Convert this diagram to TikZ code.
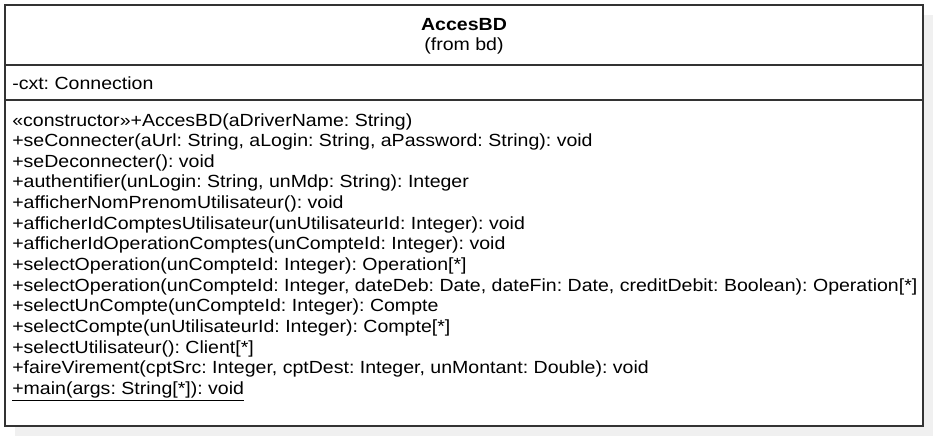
\documentclass[tikz,border=0pt]{standalone}
\usepackage{fontspec}
\setmainfont{Liberation Sans}[FakeStretch=1.11]
\frenchspacing
\usetikzlibrary{positioning}
\tikzset{
  frame/.style={draw=black!80, line width=1.1pt},
  member/.style={anchor=base west, inner sep=0pt, font=\fontsize{13.2pt}{15pt}\selectfont},
  heading/.style={anchor=base, inner sep=0pt, font=\fontsize{13.2pt}{15pt}\selectfont},
}
\begin{document}
\begin{tikzpicture}[x=0.75pt,y=-0.75pt]
    \useasboundingbox (0,0) rectangle (945,439);
    % shadow and class box
    \fill[black!6] (15,15) rectangle (933,436);
    \draw[frame, fill=white] (5,5) rectangle (923,426);
    \draw[frame] (5,65) -- (923,65);
    \draw[frame] (5,100) -- (923,100);
    % name compartment
    \node[heading] (name) at (464,30) {\textbf{AccesBD}};
    \node[heading] (pkg) at (464,50) {(from bd)};
    % attributes
    \node[member] (cxt) at (12,89) {-cxt: Connection};
    % operations
    \foreach \op [count=\i from 0] in {
        {«constructor»+AccesBD(aDriverName: String)},
        {+seConnecter(aUrl: String, aLogin: String, aPassword: String): void},
        {+seDeconnecter(): void},
        {+authentifier(unLogin: String, unMdp: String): Integer},
        {+afficherNomPrenomUtilisateur(): void},
        {+afficherIdComptesUtilisateur(unUtilisateurId: Integer): void},
        {+afficherIdOperationComptes(unCompteId: Integer): void},
        {+selectOperation(unCompteId: Integer): Operation[*]},
        {+selectOperation(unCompteId: Integer, dateDeb: Date, dateFin: Date, creditDebit: Boolean): Operation[*]},
        {+selectUnCompte(unCompteId: Integer): Compte},
        {+selectCompte(unUtilisateurId: Integer): Compte[*]},
        {+selectUtilisateur(): Client[*]},
        {+faireVirement(cptSrc: Integer, cptDest: Integer, unMontant: Double): void},
        {\underline{+main(args: String[*]): void}}}
        \node[member] (op\i) at (12,{126+20.64*\i}) {\op};
\end{tikzpicture}
\end{document}
